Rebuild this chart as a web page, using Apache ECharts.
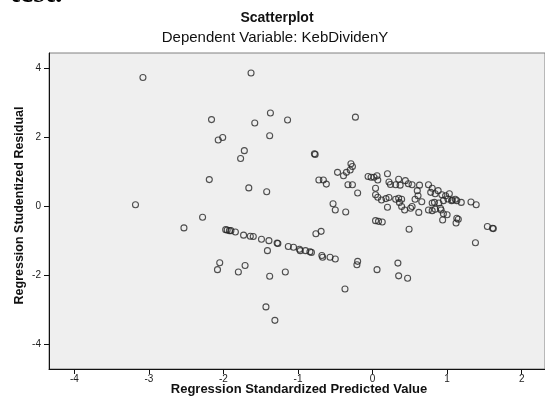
<!DOCTYPE html>
<html>
<head>
<meta charset="utf-8">
<script src="https://cdn.jsdelivr.net/npm/echarts@6/dist/echarts.min.js"></script>
<style>
  html, body { margin: 0; padding: 0; background: #ffffff; }
  #chart { width: 545px; height: 397px; }
</style>
</head>
<body>
<div id="chart"></div>
<script>
// Regression Standardized Predicted Value (x) and Regression Studentized Residual (y)
var predictedX = [
  -3.08, -2.16, -2.07, -2.01, -2.19, -3.18, -2.28, -2.53, -2.05, -2.08,
  -1.63, -1.37, -1.58, -1.14, -1.38, -1.72, -1.77, -0.23, -0.78, -0.77,
  -1.66, -1.42, -0.72, -0.66, -0.62, -0.47, -0.39, -0.35, -0.29, -0.27,
  -0.30, -0.33, -0.27, -0.20, -0.53, -0.50, -0.36,
  -1.97, -1.95, -1.92, -1.90, -1.84, -1.73, -1.64, -1.60, -1.49, -1.39,
  -1.28, -1.27, -1.41, -1.13, -1.06, -0.98, -0.97, -0.90, -0.84, -0.82,
  -0.76, -0.69, -0.68, -0.67, -0.57, -0.50, -0.20, -0.21, 0.06,
  -1.71, -1.80, -1.38, -1.17, -0.37, -1.43, -1.31, 0.34, 0.35, 0.47, 0.49,
  -0.06, -0.02, 0.02, 0.06, 0.07, 0.20, 0.22, 0.24, 0.04, 0.04, 0.07,
  0.12, 0.18, 0.22, 0.20, 0.04, 0.08, 0.13,
  0.35, 0.44, 0.48, 0.53, 0.63, 0.75, 0.31, 0.37, 0.80, 0.78, 0.88,
  0.93, 0.98, 0.60, 0.61, 0.57, 0.84,
  0.31, 0.35, 0.39, 0.36, 0.66, 0.80, 0.83, 0.89, 0.95, 0.75, 0.80,
  0.84, 0.92, 0.39, 0.43, 0.51, 0.53, 0.62, 0.94,
  1.01, 1.06, 1.07, 1.11, 1.13, 1.19, 1.03, 1.32, 1.39, 0.91, 0.95,
  1.00, 1.13, 1.15, 1.12, 1.54, 1.61, 1.62, 1.38
];
var residualY = [
  3.74, 2.52, 1.93, 2.00, 0.78, 0.05, -0.31, -0.62, -1.63, -1.83,
  3.87, 2.71, 2.42, 2.51, 2.05, 1.62, 1.39, 2.59, 1.53, 1.51,
  0.54, 0.43, 0.77, 0.77, 0.65, 0.99, 0.89, 0.99, 1.24, 1.16,
  1.06, 0.63, 0.63, 0.39, 0.08, -0.10, -0.16,
  -0.67, -0.68, -0.70, -0.70, -0.74, -0.83, -0.86, -0.87, -0.95, -0.99,
  -1.06, -1.07, -1.28, -1.16, -1.18, -1.24, -1.28, -1.28, -1.31, -1.33,
  -0.79, -0.72, -1.42, -1.47, -1.47, -1.52, -1.59, -1.69, -1.83,
  -1.71, -1.90, -2.02, -1.90, -2.39, -2.91, -3.30, -1.64, -2.01, -2.08, -0.66,
  0.87, 0.85, 0.85, 0.89, 0.77, 0.95, 0.71, 0.64, 0.53, 0.34, 0.27,
  0.19, 0.23, 0.26, -0.02, -0.41, -0.43, -0.45,
  0.79, 0.75, 0.66, 0.63, 0.62, 0.63, 0.63, 0.62, 0.53, 0.41, 0.46,
  0.34, 0.31, 0.46, 0.31, 0.21, 0.37,
  0.21, 0.24, 0.21, 0.12, 0.14, 0.10, 0.12, 0.10, 0.17, -0.10, -0.12,
  -0.08, -0.10, 0.00, -0.10, -0.05, 0.00, -0.17, -0.39,
  0.22, 0.17, 0.19, 0.21, 0.17, 0.12, 0.37, 0.13, 0.05, -0.05, -0.21,
  -0.24, -0.34, -0.37, -0.48, -0.58, -0.63, -0.64, -1.05
];
var xTicks = [-4, -3, -2, -1, 0, 1, 2];
var yTicks = [-4, -2, 0, 2, 4];

var points = predictedX.map(function (x, i) { return [x, residualY[i]]; });

var chart = echarts.init(document.getElementById('chart'), null, { renderer: 'canvas' });
var labelFont = { fontFamily: 'Liberation Sans, Arial, sans-serif', fontSize: 10, color: '#222' };

chart.setOption({
  animation: false,
  backgroundColor: '#ffffff',
  grid: {
    left: 49, top: 53, right: -2, bottom: 28,
    show: true, backgroundColor: '#efefef', borderColor: '#808080', borderWidth: 1
  },
  xAxis: {
    type: 'value', min: -4.34, max: 2.313,
    axisLine: { show: true, onZero: false, lineStyle: { color: '#111', width: 1 } },
    axisTick: { show: true, length: 5, lineStyle: { color: '#111' }, customValues: xTicks },
    axisLabel: Object.assign({ margin: 5, customValues: xTicks, formatter: function (v) { return String(v); } }, labelFont),
    splitLine: { show: false }
  },
  yAxis: {
    type: 'value', min: -4.71, max: 4.45,
    axisLine: { show: true, onZero: false, lineStyle: { color: '#111', width: 1 } },
    axisTick: { show: true, length: 5, lineStyle: { color: '#111' }, customValues: yTicks },
    axisLabel: Object.assign({ margin: 8, customValues: yTicks, formatter: function (v) { return String(v); } }, labelFont),
    splitLine: { show: false }
  },
  series: [{
    type: 'scatter',
    data: points,
    symbol: 'circle',
    symbolSize: 6,
    itemStyle: { color: 'rgba(0,0,0,0)', borderColor: '#262626', borderWidth: 1.1 },
    emphasis: { disabled: true }
  }],
  graphic: [
    { type: 'text', left: 10, top: -21, style: { text: 'test.', font: 'bold 30px "Liberation Serif", "Times New Roman", serif', fill: '#000' } },
    { type: 'text', x: 277, y: 18, style: { text: 'Scatterplot', font: 'bold 14px "Liberation Sans", Arial, sans-serif', fill: '#111', align: 'center', verticalAlign: 'middle' } },
    { type: 'text', x: 275, y: 37.5, style: { text: 'Dependent Variable: KebDividenY', font: '15px "Liberation Sans", Arial, sans-serif', fill: '#111', align: 'center', verticalAlign: 'middle' } },
    { type: 'text', x: 299, y: 389, style: { text: 'Regression Standardized Predicted Value', font: 'bold 13px "Liberation Sans", Arial, sans-serif', fill: '#111', align: 'center', verticalAlign: 'middle' } },
    { type: 'text', x: 20, y: 205.5, rotation: Math.PI / 2, style: { text: 'Regression Studentized Residual', font: 'bold 12.5px "Liberation Sans", Arial, sans-serif', fill: '#111', align: 'center', verticalAlign: 'middle' } }
  ]
});
</script>
</body>
</html>
